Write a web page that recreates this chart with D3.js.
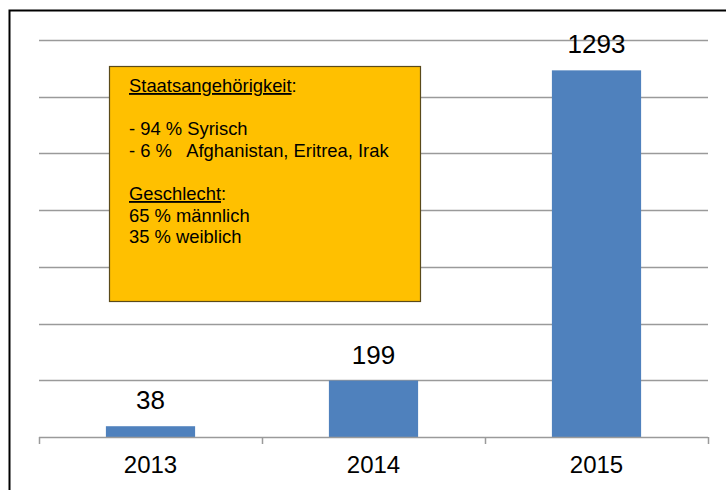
<!DOCTYPE html>
<html>
<head>
<meta charset="utf-8">
<script src="https://cdn.jsdelivr.net/npm/d3@7"></script>
<style>
  body { margin: 0; background: #fff; }
  svg { display: block; font-family: "Liberation Sans", Arial, sans-serif; }
</style>
</head>
<body>
<div id="chart"></div>
<script>
// data
var years = ["2013", "2014", "2015"];
var counts = [38, 199, 1293];
var gridTicks = [200, 400, 600, 800, 1000, 1200, 1400];
var noteLines = [
  [{t: "Staatsangehörigkeit", u: true}, {t: ":"}],
  [],
  [{t: "- 94 % Syrisch"}],
  [{t: "- 6 %   Afghanistan, Eritrea, Irak"}],
  [],
  [{t: "Geschlecht", u: true}, {t: ":"}],
  [{t: "65 % männlich"}],
  [{t: "35 % weiblich"}]
];

var width = 726, height = 490;
var plotLeft = 39, plotRight = 708, plotTop = 40, plotBottom = 437;

var svg = d3.select("#chart")
  .append("svg")
  .attr("width", width)
  .attr("height", height);

// frame (only left and top edges are in view)
svg.append("path")
  .attr("d", "M9.5," + height + "V10.5H" + width)
  .style("fill", "none")
  .style("stroke", "#000")
  .style("stroke-width", 2);

var x = d3.scaleBand()
  .domain(years)
  .range([plotLeft, plotRight])
  .paddingInner(0.6)
  .paddingOuter(0.3);

var y = d3.scaleLinear()
  .domain([0, 1400])
  .range([plotBottom, plotTop]);

// gridlines
svg.append("g")
  .selectAll("line")
  .data(gridTicks)
  .enter()
  .append("line")
  .attr("x1", plotLeft)
  .attr("x2", plotRight)
  .attr("y1", function(d) { return Math.round(y(d)) + 0.5; })
  .attr("y2", function(d) { return Math.round(y(d)) + 0.5; })
  .style("stroke", "#9a9a9a")
  .style("stroke-width", 1.5);

// bars
svg.append("g")
  .selectAll("rect")
  .data(counts)
  .enter()
  .append("rect")
  .attr("x", function(d, i) { return x(years[i]); })
  .attr("y", function(d) { return y(d); })
  .attr("width", x.bandwidth())
  .attr("height", function(d) { return y(0) - y(d); })
  .style("fill", "#4F81BD");

// x axis line with ticks at category boundaries
var boundaries = [plotLeft].concat(years.map(function(d) { return x(d) + x.bandwidth() + x.step() * 0.3; }));
var axis = svg.append("g");
axis.append("line")
  .attr("x1", plotLeft)
  .attr("x2", plotRight)
  .attr("y1", plotBottom + 0.5)
  .attr("y2", plotBottom + 0.5)
  .style("stroke", "#9a9a9a")
  .style("stroke-width", 1.5);
axis.selectAll(".tick")
  .data(boundaries)
  .enter()
  .append("line")
  .attr("x1", function(d) { return Math.round(d) + 0.5; })
  .attr("x2", function(d) { return Math.round(d) + 0.5; })
  .attr("y1", plotBottom)
  .attr("y2", plotBottom + 7)
  .style("stroke", "#9a9a9a")
  .style("stroke-width", 1.5);

// category labels
svg.append("g")
  .selectAll("text")
  .data(years)
  .enter()
  .append("text")
  .attr("x", function(d) { return x(d) + x.bandwidth() / 2; })
  .attr("y", 473)
  .style("font-size", "24px")
  .style("text-anchor", "middle")
  .style("fill", "#000")
  .text(function(d) { return d; });

// value labels
svg.append("g")
  .selectAll("text")
  .data(counts)
  .enter()
  .append("text")
  .attr("x", function(d, i) { return x(years[i]) + x.bandwidth() / 2; })
  .attr("y", function(d) { return y(d) - 17; })
  .style("font-size", "26px")
  .style("text-anchor", "middle")
  .style("fill", "#000")
  .text(function(d) { return d; });

// note box
svg.append("rect")
  .attr("x", 109.5)
  .attr("y", 66.5)
  .attr("width", 311)
  .attr("height", 235)
  .style("fill", "#FFC000")
  .style("stroke", "#5a4a1a")
  .style("stroke-width", 1.2);

var note = svg.append("text")
  .attr("x", 129)
  .attr("y", 92)
  .style("font-size", "18.4px")
  .style("white-space", "pre")
  .style("fill", "#000");

noteLines.forEach(function(parts, i) {
  var line = note.append("tspan")
    .attr("x", 129)
    .attr("y", 92 + i * 21.6);
  parts.forEach(function(p) {
    line.append("tspan")
      .style("text-decoration", p.u ? "underline" : "none")
      .text(p.t);
  });
});
</script>
</body>
</html>
